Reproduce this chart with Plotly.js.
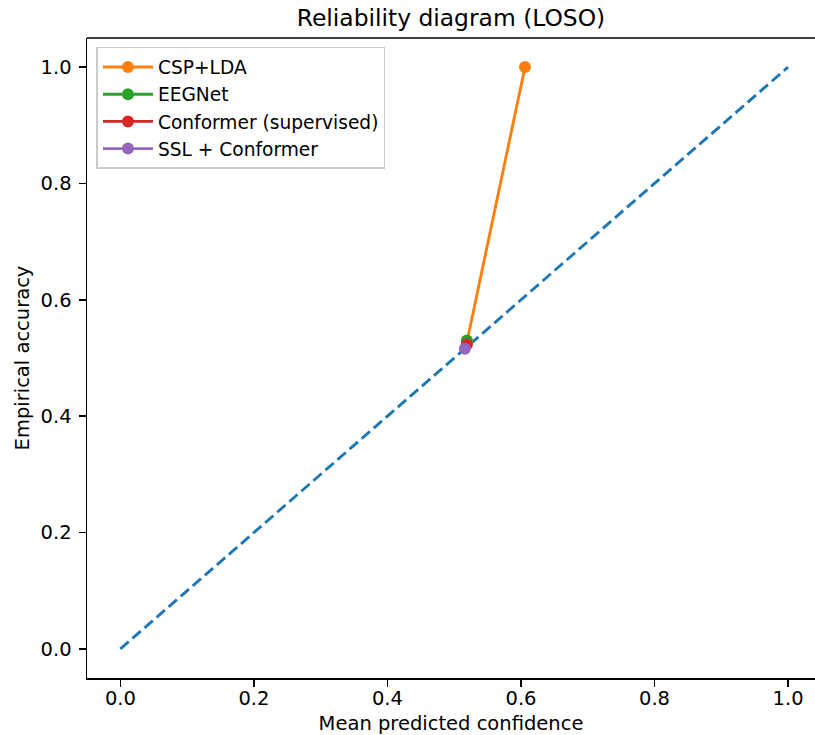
<!DOCTYPE html>
<html>
<head>
<meta charset="utf-8">
<script src="https://cdn.plot.ly/plotly-3.0.1.min.js"></script>
<style>html,body{margin:0;padding:0;background:#fff;}#chart{width:815px;height:735px;}</style>
</head>
<body>
<div id="chart"></div>
<script>
// Data
const diagonal = [0, 1];
const cspConf = [0.519, 0.606];
const cspAcc = [0.527, 1.0];
const eegnetConf = [0.519];
const eegnetAcc = [0.530];
const conformerConf = [0.519];
const conformerAcc = [0.523];
const sslConf = [0.516];
const sslAcc = [0.516];
const seriesNames = ["CSP+LDA", "EEGNet", "Conformer (supervised)", "SSL + Conformer"];
const seriesColors = ["#ff7f0e", "#2ca02c", "#d62728", "#9467bd"];
const xTicks = [0, 0.2, 0.4, 0.6, 0.8, 1.0];
const yTicks = [0, 0.2, 0.4, 0.6, 0.8, 1.0];
const tickText = ["0.0", "0.2", "0.4", "0.6", "0.8", "1.0"];

const FONT = "DejaVu Sans, sans-serif";
const FS = 19.5;
const confs = [cspConf, eegnetConf, conformerConf, sslConf];
const accs = [cspAcc, eegnetAcc, conformerAcc, sslAcc];

const traces = [{
  x: diagonal, y: diagonal, mode: "lines", showlegend: false,
  line: {color: "#1f77b4", width: 2.9, dash: "11px,5px"}, hoverinfo: "skip"
}];
for (let i = 0; i < seriesNames.length; i++) {
  traces.push({
    x: confs[i], y: accs[i], name: seriesNames[i], mode: "lines+markers",
    line: {color: seriesColors[i], width: 2.9},
    marker: {color: seriesColors[i], size: 12}
  });
}

const layout = {
  width: 815, height: 735,
  margin: {l: 86.6, r: 0, t: 38, b: 57, pad: 0},
  paper_bgcolor: "#fff", plot_bgcolor: "#fff",
  font: {family: FONT, size: FS, color: "#000"},
  title: {text: "Reliability diagram (LOSO)", font: {family: FONT, size: 23.4, color: "#000"},
          x: 0.5, xref: "paper", y: 1, yref: "container", yanchor: "top", pad: {t: 10}},
  showlegend: true,
  legend: {x: 0.013, y: 0.986, xanchor: "left", yanchor: "top",
           bgcolor: "rgba(255,255,255,0.8)", bordercolor: "#cccccc", borderwidth: 1.5,
           font: {family: FONT, size: 18.6, color: "#000"}, tracegroupgap: 0, itemwidth: 50},
  xaxis: {range: [-0.05, 1.0404], tickvals: xTicks, ticktext: tickText, ticks: "outside",
          ticklen: 7, tickwidth: 1.5, tickcolor: "#000", showline: true, linecolor: "#000",
          linewidth: 1.5, showgrid: false, zeroline: false, mirror: false, ticklabelstandoff: -5,
          title: {text: "Mean predicted confidence", font: {family: FONT, size: FS}, standoff: 10},
          tickfont: {family: FONT, size: FS}},
  yaxis: {range: [-0.05, 1.05], tickvals: yTicks, ticktext: tickText, ticks: "outside",
          ticklen: 7, tickwidth: 1.5, tickcolor: "#000", showline: true, linecolor: "#000",
          linewidth: 1.5, showgrid: false, zeroline: false, ticklabelstandoff: 3,
          title: {text: "Empirical accuracy", font: {family: FONT, size: FS}, standoff: 6},
          tickfont: {family: FONT, size: FS}},
  shapes: [{type: "line", xref: "paper", yref: "paper", x0: 0, x1: 1, y0: 1, y1: 1,
            line: {color: "#000", width: 1.5}}]
};

Plotly.newPlot("chart", traces, layout, {displayModeBar: false, staticPlot: true});
</script>
</body>
</html>
